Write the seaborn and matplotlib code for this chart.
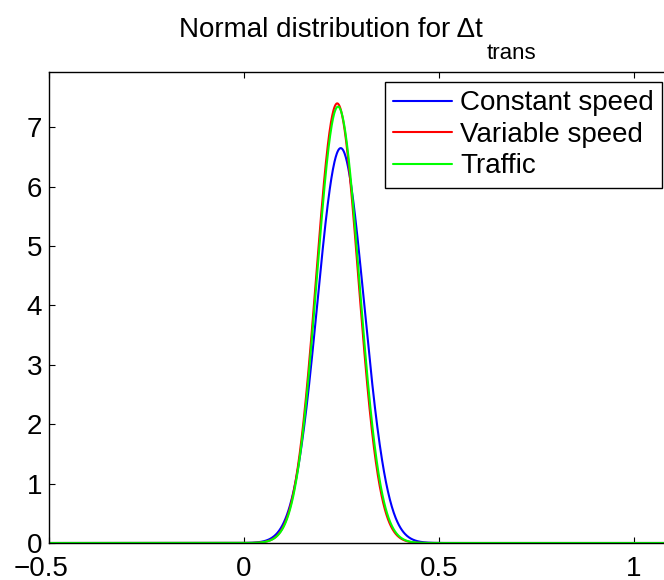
import numpy as np
import pandas as pd
import matplotlib
matplotlib.use("Agg")
import matplotlib.pyplot as plt
import matplotlib.transforms as mtransforms
import seaborn as sns

# Normal distribution parameters for the transit time difference
series_names = ["Constant speed", "Variable speed", "Traffic"]
means = [0.248, 0.239, 0.241]
sigmas = [0.0600, 0.0539, 0.0543]
colors = ["#0000ff", "#ff0000", "#00ff00"]

x_min, x_max = -0.5, 1.1
x_ticks = [-0.5, 0, 0.5, 1]
x_tick_labels = ["\u22120.5", "0", "0.5", "1"]
y_ticks = [0, 1, 2, 3, 4, 5, 6, 7]
y_max = 7.93

x = np.linspace(x_min, x_max, 1601)
frames = []
for name, mu, sd in zip(series_names, means, sigmas):
    pdf = np.exp(-0.5 * ((x - mu) / sd) ** 2) / (sd * np.sqrt(2 * np.pi))
    frames.append(pd.DataFrame({"t": x, "density": pdf, "series": name}))
df = pd.concat(frames, ignore_index=True)

sns.set_theme(style="white")
plt.rcParams["font.family"] = ["Liberation Sans", "DejaVu Sans"]
plt.rcParams["axes.unicode_minus"] = True
plt.rcParams["text.color"] = "black"

W, H = 664, 580
fig = plt.figure(figsize=(W / 100, H / 100), dpi=100)
ax = fig.add_axes([49 / W, 1 - 543 / H, (673 - 49) / W, (543 - 72) / H])

sns.lineplot(data=df, x="t", y="density", hue="series", hue_order=series_names,
             palette=colors, linewidth=1.5, ax=ax, legend=True, sort=False)

ax.set_xlim(x_min, x_max)
ax.set_ylim(0, y_max)
ax.set_xticks(x_ticks)
ax.set_xticklabels(x_tick_labels)
ax.set_yticks(y_ticks)
ax.set_xlabel("")
ax.set_ylabel("")
for sp in ax.spines.values():
    sp.set_color("black")
    sp.set_linewidth(1.0)
ax.tick_params(axis="both", which="both", direction="in", length=4, width=0.8,
               colors="black", labelsize=20, top=True, right=True,
               bottom=True, left=True)
ax.tick_params(axis="x", pad=9)
ax.tick_params(axis="y", pad=5)

# the leftmost negative label sits slightly left of its tick
first_lbl = ax.get_xticklabels()[0]
first_lbl.set_transform(first_lbl.get_transform() +
                        mtransforms.ScaledTranslation(-8 / 100, 0, fig.dpi_scale_trans))

# Title with a deeply lowered subscript
renderer = fig.canvas.get_renderer()
title_main = fig.text(179 / W, 1 - 37 / H, "Normal distribution for \u0394t",
                      fontsize=20, ha="left", va="baseline", color="black")
bb = title_main.get_window_extent(renderer)
fig.text((bb.x1 + 4) / W, 1 - 59 / H, "trans", fontsize=16,
         ha="left", va="baseline", color="black")

leg = ax.legend(loc="upper right", bbox_to_anchor=(662 / W, 1 - 82 / H),
                bbox_transform=fig.transFigure, borderaxespad=0,
                fontsize=20, frameon=True, fancybox=False, edgecolor="black",
                framealpha=1, handlelength=2.1, handletextpad=0.3,
                labelspacing=0.2, borderpad=0.3)
leg.get_frame().set_linewidth(1.0)
for txt in leg.get_texts():
    txt.set_color("black")
for line in leg.get_lines():
    line.set_linewidth(1.5)

fig.savefig("out.png", dpi=100)
